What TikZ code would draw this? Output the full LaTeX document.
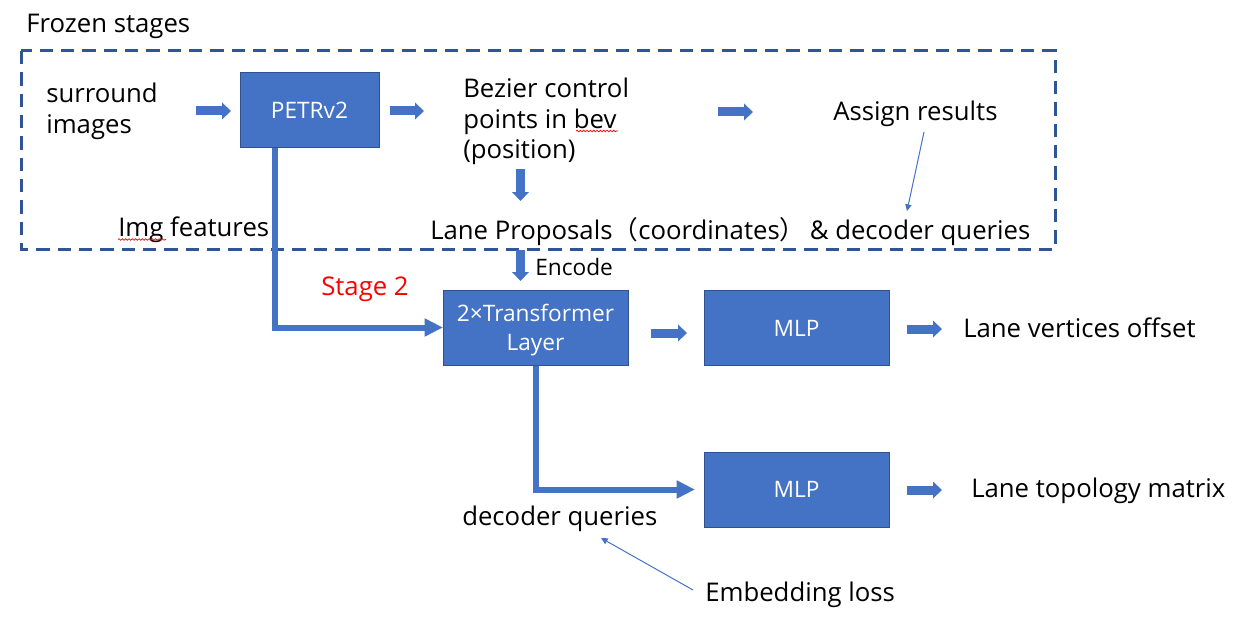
\documentclass[tikz,border=0pt]{standalone}
\usepackage{fontspec}
\setmainfont{Open Sans}
\newfontfamily\cjk{Noto Sans CJK SC}
\usetikzlibrary{arrows.meta,decorations.pathmorphing,calc}
\definecolor{boxblue}{HTML}{4472C4}
\definecolor{boxedge}{HTML}{2F528F}
\definecolor{dashblue}{HTML}{2F5597}
\begin{document}
\begin{tikzpicture}[x=0.75pt,y=-0.75pt,
  txt/.style={inner sep=0pt,anchor=base west,font=\fontsize{19.3}{22.5}\selectfont,align=left},
  boxtxt/.style={inner sep=0pt,anchor=base west,font=\fontsize{17}{21}\selectfont},
  bluebox/.style={draw=boxedge,line width=0.75pt,fill=boxblue,text=white,
     font=\fontsize{17}{21.75}\selectfont,align=center,inner sep=0pt},
  blockarrow/.style={line width=6.75pt,color=boxblue,
     -{Triangle[length=6.75pt,width=12.75pt,line width=0pt]}},
  thickconn/.style={line width=4.5pt,color=boxblue,
     -{Triangle[length=13.5pt,width=14pt,line width=0pt]}},
  thinarrow/.style={line width=0.75pt,color=boxblue,
     -{Triangle[length=5pt,width=5pt,line width=0pt]}},
  squiggle/.style={red,line width=0.5pt,decorate,
     decoration={snake,amplitude=0.6pt,segment length=2.5pt}}]
\useasboundingbox (0,0) rectangle (1244,631);
% frozen region
\node[txt] (frozen) at (26,33) {Frozen stages};
\draw[dashblue,line width=2.25pt,dash pattern=on 10pt off 6pt] (21,51) rectangle (1055,249);
% top row
\node[txt] (surround) at (46,133) {surround\\images};
\node[bluebox,minimum width=104.25pt,minimum height=56.25pt] (petr) at (309.5,110.5) {PETRv2};
\node[txt] (bezier) at (463,158) {Bezier control\\points in bev\\(position)};
\node[txt] (assign) at (833,121) {Assign results};
\node[txt] (lane) at (430,239) {Lane Proposals{\cjk （}coordinates{\cjk ）}\,\& decoder queries};
\node[txt] (img) at (118,236) {Img features};
\node[txt,text=red] (stage) at (321,295) {Stage 2};
\node[boxtxt] (encode) at (535,275) {Encode};
% stage 2
\node[bluebox,minimum width=138.75pt,minimum height=56.25pt,text depth=0pt] (trans) at (535.5,327.5) {2×Transformer\\Layer};
\node[bluebox,minimum width=138.75pt,minimum height=56.25pt] (mlp1) at (796.5,328) {MLP};
\node[bluebox,minimum width=138.75pt,minimum height=56.25pt] (mlp2) at (796.5,489.5) {MLP};
\node[txt] (offset) at (963,337) {Lane vertices offset};
\node[txt] (topo) at (971,497) {Lane topology matrix};
\node[txt] (decq) at (462,525) {decoder queries};
\node[txt] (emb) at (705,601) {Embedding loss};
% block arrows
\draw[blockarrow] (196,111) -- (231,111);
\draw[blockarrow] (390,111) -- (424,111);
\draw[blockarrow] (718,112) -- (753,112);
\draw[blockarrow] (520.5,169) -- (520.5,201);
\draw[blockarrow] (520.5,250) -- (520.5,281);
\draw[blockarrow] (651,333) -- (687,333);
\draw[blockarrow] (907,329) -- (942,329);
\draw[blockarrow] (907,490) -- (942,490);
% thick connectors
\draw[thickconn] ([xshift=-26.25pt]petr.south) |- (trans.west);
\draw[thickconn,shorten >=6.75pt] (trans.south) |- (mlp2.west);
% thin arrows
\coordinate (a1) at (924,132);
\coordinate (a2) at (907,211);
\draw[thinarrow] (a1) -- (a2);
\coordinate (e1) at (693,590);
\coordinate (e2) at (601,538);
\draw[thinarrow] (e1) -- (e2);
% spell-check squiggles
\draw[squiggle] (576,131) -- (618,131);
\draw[squiggle] (118,239.5) -- (166,239.5);
\end{tikzpicture}
\end{document}
